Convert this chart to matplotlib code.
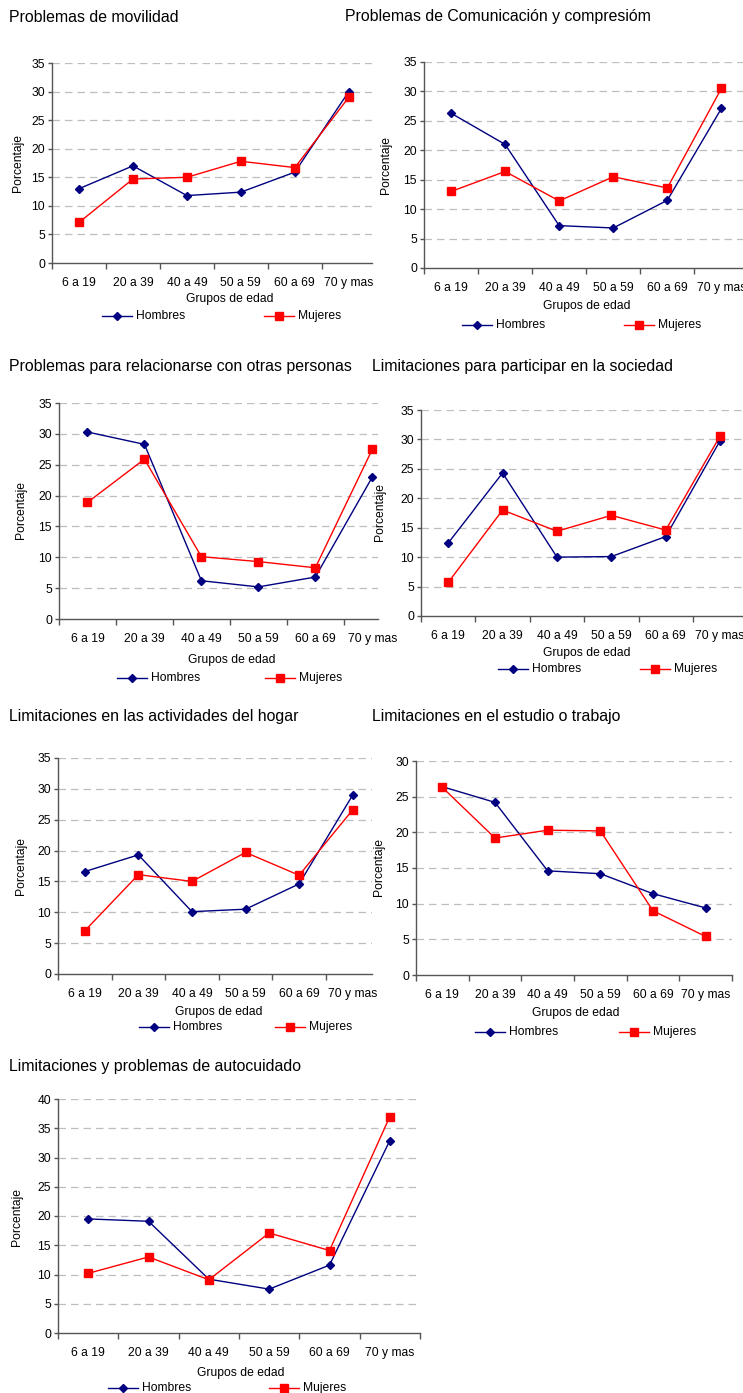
import matplotlib
matplotlib.use("Agg")
import matplotlib.pyplot as plt
from matplotlib.lines import Line2D

plt.rcParams['font.family'] = ['Liberation Sans', 'DejaVu Sans']

W, H = 743, 1393
fig = plt.figure(figsize=(W / 100, H / 100), dpi=100)
fig.patch.set_facecolor('white')

categorias = ["6 a 19", "20 a 39", "40 a 49", "50 a 59", "60 a 69", "70 y mas"]
series = ["Hombres", "Mujeres"]

titulos = [
    "Problemas de movilidad",
    "Problemas de Comunicación y compresióm",
    "Problemas para relacionarse con otras personas",
    "Limitaciones para participar en la sociedad",
    "Limitaciones en las actividades del hogar",
    "Limitaciones en el estudio o trabajo",
    "Limitaciones y problemas de autocuidado",
]

movilidad_h = [13.0, 17.0, 11.8, 12.4, 15.9, 30.0]
movilidad_m = [7.1, 14.7, 15.0, 17.8, 16.7, 29.0]
comunicacion_h = [26.3, 21.0, 7.2, 6.8, 11.5, 27.1]
comunicacion_m = [13.0, 16.4, 11.4, 15.5, 13.6, 30.5]
relacion_h = [30.3, 28.3, 6.2, 5.2, 6.8, 23.0]
relacion_m = [18.9, 25.9, 10.1, 9.3, 8.3, 27.5]
sociedad_h = [12.4, 24.3, 10.0, 10.1, 13.5, 29.8]
sociedad_m = [5.7, 18.0, 14.4, 17.1, 14.6, 30.6]
hogar_h = [16.6, 19.3, 10.1, 10.5, 14.6, 29.0]
hogar_m = [7.0, 16.1, 15.0, 19.7, 16.0, 26.6]
estudio_h = [26.4, 24.2, 14.6, 14.2, 11.4, 9.4]
estudio_m = [26.3, 19.2, 20.3, 20.2, 9.0, 5.4]
autocuidado_h = [19.5, 19.1, 9.2, 7.5, 11.6, 32.9]
autocuidado_m = [10.2, 13.0, 9.1, 17.1, 14.1, 37.0]

datos = [
    (movilidad_h, movilidad_m),
    (comunicacion_h, comunicacion_m),
    (relacion_h, relacion_m),
    (sociedad_h, sociedad_m),
    (hogar_h, hogar_m),
    (estudio_h, estudio_m),
    (autocuidado_h, autocuidado_m),
]

ymax = [35, 35, 35, 35, 35, 30, 40]

# layout in pixels: left, top, right, bottom, visible x extent (categories)
axes_px = [
    (52, 63, 372, 263, 5.93),
    (424, 62, 743, 268, 5.9),
    (59, 403, 378, 619, 5.6),
    (421, 410, 743, 616, 5.92),
    (58, 758, 372, 974, 5.86),
    (416, 761, 732, 975, 6.0),
    (58, 1099, 420, 1333, 6.0),
]
title_px = [(9, 17), (345, 17), (9, 367), (372, 367), (9, 717), (372, 717), (9, 1067)]
xlabel_px = [(230, 299), (587, 306), (232, 660), (587, 653), (219, 1012), (576, 1013), (241, 1373)]
ylabel_px = [(18, 163), (386, 165), (21, 510), (380, 512), (21, 866), (379, 867), (17, 1217)]
legend_px = [
    (117, 279, 316),
    (477, 639, 325),
    (132, 280, 678),
    (513, 655, 669),
    (154, 290, 1027),
    (490, 634, 1032),
    (123, 284, 1388),
]

NAVY = '#000080'
RED = '#FF0000'
FS = 8.7


def fx(x):
    return x / W


def fy(y):
    return 1 - y / H


def draw_legend(xm, color, marker, ms, label, y):
    fig.add_artist(Line2D([fx(xm - 15), fx(xm + 15)], [fy(y), fy(y)],
                          transform=fig.transFigure, color=color, lw=1.0))
    fig.add_artist(Line2D([fx(xm)], [fy(y)], transform=fig.transFigure,
                          color=color, marker=marker, markersize=ms, lw=0))
    fig.text(fx(xm + 19), fy(y), label, fontsize=FS, va='center', ha='left')


for i in range(7):
    l, t, r, b, xm = axes_px[i]
    ax = fig.add_axes([fx(l), fy(b), (r - l) / W, (b - t) / H])
    ax.set_facecolor('none')
    h, m = datos[i]
    xs = [k + 0.5 for k in range(len(categorias))]
    ax.plot(xs, h, color=NAVY, lw=1.0, marker='D', markersize=4.2, zorder=3)
    ax.plot(xs, m, color=RED, lw=1.0, marker='s', markersize=5.2, zorder=4)
    ax.set_xlim(0, xm)
    ax.set_ylim(0, ymax[i])
    ax.set_yticks(range(0, ymax[i] + 1, 5))
    ax.set_xticks(xs)
    ax.set_xticklabels(categorias)
    ax.set_xticks([k for k in range(7) if k <= xm + 1e-6], minor=True)
    ax.tick_params(axis='x', which='major', length=0, pad=10, labelsize=FS)
    ax.tick_params(axis='x', which='minor', length=4, width=1, color='#555555',
                   direction='out')
    ax.tick_params(axis='y', which='major', length=3, width=1, color='#555555',
                   pad=2, labelsize=FS)
    for s in ['top', 'right']:
        ax.spines[s].set_visible(False)
    for s in ['left', 'bottom']:
        ax.spines[s].set_color('#555555')
        ax.spines[s].set_linewidth(1.0)
    for yv in range(5, ymax[i] + 1, 5):
        ax.axhline(yv, color='#BEBEBE', lw=0.9, ls=(0, (6, 4)), zorder=1)

    tx, ty = title_px[i]
    fig.text(fx(tx), fy(ty), titulos[i], fontsize=11.4, ha='left', va='center')
    xx, xy = xlabel_px[i]
    fig.text(fx(xx), fy(xy), "Grupos de edad", fontsize=FS, ha='center', va='center')
    yx, yy = ylabel_px[i]
    fig.text(fx(yx), fy(yy), "Porcentaje", fontsize=FS, ha='center', va='center',
             rotation=90)
    hx, mx, ly = legend_px[i]
    draw_legend(hx, NAVY, 'D', 4.2, series[0], ly)
    draw_legend(mx, RED, 's', 5.2, series[1], ly)

fig.savefig("out.png", dpi=100, facecolor='white')
